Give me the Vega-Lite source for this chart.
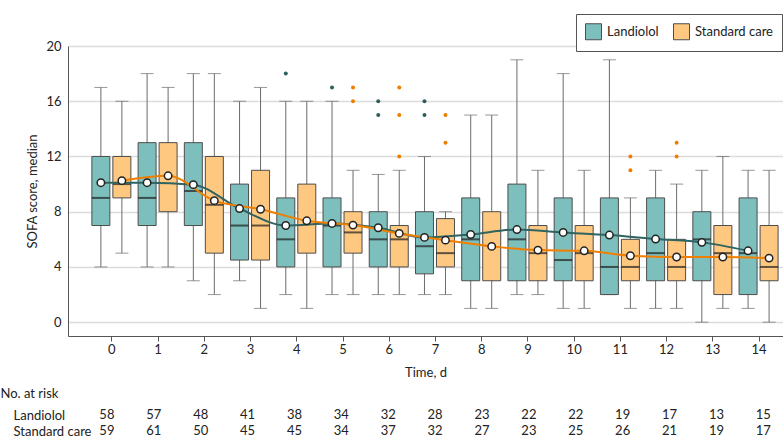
{
  "$schema": "https://vega.github.io/schema/vega-lite/v6.json",
  "padding": {"left": 0, "top": 13, "right": 0, "bottom": 0},
  "background": "white",
  "spacing": 8,
  "config": {
    "font": "Lato",
    "view": {"stroke": null},
    "axis": {"labelFontSize": 13, "labelColor": "#222", "titleFontSize": 13, "titleFontWeight": "normal", "titleColor": "#222", "domainColor": "#555", "tickColor": "#555", "gridColor": "#dcdcdc", "gridWidth": 1.3}
  },
  "datasets": {
    "boxes": [
      {"day": 0, "group": "Landiolol", "lo": 4, "q1": 7, "median": 9, "q3": 12, "hi": 17, "mean": 10.1},
      {"day": 0, "group": "Standard care", "lo": 5, "q1": 9, "median": 10, "q3": 12, "hi": 16, "mean": 10.25},
      {"day": 1, "group": "Landiolol", "lo": 4, "q1": 7, "median": 9, "q3": 13, "hi": 18, "mean": 10.1},
      {"day": 1, "group": "Standard care", "lo": 4, "q1": 8, "median": null, "q3": 13, "hi": 17, "mean": 10.6},
      {"day": 2, "group": "Landiolol", "lo": 3, "q1": 7, "median": 9.5, "q3": 13, "hi": 18, "mean": 9.96},
      {"day": 2, "group": "Standard care", "lo": 2, "q1": 5, "median": 8.5, "q3": 12, "hi": 18, "mean": 8.8},
      {"day": 3, "group": "Landiolol", "lo": 3, "q1": 4.5, "median": 7, "q3": 10, "hi": 16, "mean": 8.23},
      {"day": 3, "group": "Standard care", "lo": 1, "q1": 4.5, "median": 7, "q3": 11, "hi": 17, "mean": 8.18},
      {"day": 4, "group": "Landiolol", "lo": 2, "q1": 4, "median": 6, "q3": 9, "hi": 16, "mean": 7.0},
      {"day": 4, "group": "Standard care", "lo": 1, "q1": 5, "median": null, "q3": 10, "hi": 16, "mean": 7.34},
      {"day": 5, "group": "Landiolol", "lo": 2, "q1": 4, "median": 7, "q3": 9, "hi": 16, "mean": 7.15},
      {"day": 5, "group": "Standard care", "lo": 2, "q1": 5, "median": 6.5, "q3": 8, "hi": 11, "mean": 7.03},
      {"day": 6, "group": "Landiolol", "lo": 2, "q1": 4, "median": 6, "q3": 8, "hi": 10.7, "mean": 6.84},
      {"day": 6, "group": "Standard care", "lo": 2, "q1": 4, "median": 6, "q3": 7, "hi": 11, "mean": 6.43},
      {"day": 7, "group": "Landiolol", "lo": 2, "q1": 3.5, "median": 5.5, "q3": 8, "hi": 12, "mean": 6.14},
      {"day": 7, "group": "Standard care", "lo": 2, "q1": 4, "median": 5, "q3": 7.5, "hi": 8, "mean": 5.94},
      {"day": 8, "group": "Landiolol", "lo": 1, "q1": 3, "median": 6, "q3": 9, "hi": 15, "mean": 6.35},
      {"day": 8, "group": "Standard care", "lo": 1, "q1": 3, "median": null, "q3": 8, "hi": 15, "mean": 5.49},
      {"day": 9, "group": "Landiolol", "lo": 2, "q1": 3, "median": 6, "q3": 10, "hi": 19, "mean": 6.71},
      {"day": 9, "group": "Standard care", "lo": 2, "q1": 3, "median": 5, "q3": 7, "hi": 11, "mean": 5.22},
      {"day": 10, "group": "Landiolol", "lo": 1, "q1": 3, "median": 4.5, "q3": 9, "hi": 18, "mean": 6.5},
      {"day": 10, "group": "Standard care", "lo": 1, "q1": 3, "median": 5, "q3": 7, "hi": 11, "mean": 5.17},
      {"day": 11, "group": "Landiolol", "lo": 2, "q1": 2, "median": 4, "q3": 9, "hi": 19, "mean": 6.31},
      {"day": 11, "group": "Standard care", "lo": 1, "q1": 3, "median": 4, "q3": 6, "hi": 9, "mean": 4.81},
      {"day": 12, "group": "Landiolol", "lo": 1, "q1": 3, "median": 5, "q3": 9, "hi": 11, "mean": 6.02},
      {"day": 12, "group": "Standard care", "lo": 1, "q1": 3, "median": 4, "q3": 6, "hi": 10, "mean": 4.72},
      {"day": 13, "group": "Landiolol", "lo": 0, "q1": 3, "median": 6, "q3": 8, "hi": 11, "mean": 5.78},
      {"day": 13, "group": "Standard care", "lo": 1, "q1": 2, "median": 5, "q3": 7, "hi": 12, "mean": 4.72},
      {"day": 14, "group": "Landiolol", "lo": 1, "q1": 2, "median": 5, "q3": 9, "hi": 11, "mean": 5.17},
      {"day": 14, "group": "Standard care", "lo": 0, "q1": 3, "median": 4, "q3": 7, "hi": 11, "mean": 4.64}
    ],
    "outliers": [
      {"day": 4, "group": "Landiolol", "value": 18},
      {"day": 5, "group": "Landiolol", "value": 17},
      {"day": 5, "group": "Standard care", "value": 17},
      {"day": 5, "group": "Standard care", "value": 16},
      {"day": 6, "group": "Landiolol", "value": 16},
      {"day": 6, "group": "Landiolol", "value": 15},
      {"day": 6, "group": "Standard care", "value": 17},
      {"day": 6, "group": "Standard care", "value": 15},
      {"day": 6, "group": "Standard care", "value": 12},
      {"day": 7, "group": "Landiolol", "value": 16},
      {"day": 7, "group": "Landiolol", "value": 15},
      {"day": 7, "group": "Standard care", "value": 15},
      {"day": 7, "group": "Standard care", "value": 13},
      {"day": 11, "group": "Standard care", "value": 12},
      {"day": 11, "group": "Standard care", "value": 11},
      {"day": 12, "group": "Standard care", "value": 13},
      {"day": 12, "group": "Standard care", "value": 12}
    ],
    "risk": [
      {"day": 0, "group": "Landiolol", "n": 58}, {"day": 1, "group": "Landiolol", "n": 57}, {"day": 2, "group": "Landiolol", "n": 48},
      {"day": 3, "group": "Landiolol", "n": 41}, {"day": 4, "group": "Landiolol", "n": 38}, {"day": 5, "group": "Landiolol", "n": 34},
      {"day": 6, "group": "Landiolol", "n": 32}, {"day": 7, "group": "Landiolol", "n": 28}, {"day": 8, "group": "Landiolol", "n": 23},
      {"day": 9, "group": "Landiolol", "n": 22}, {"day": 10, "group": "Landiolol", "n": 22}, {"day": 11, "group": "Landiolol", "n": 19},
      {"day": 12, "group": "Landiolol", "n": 17}, {"day": 13, "group": "Landiolol", "n": 13}, {"day": 14, "group": "Landiolol", "n": 15},
      {"day": 0, "group": "Standard care", "n": 59}, {"day": 1, "group": "Standard care", "n": 61}, {"day": 2, "group": "Standard care", "n": 50},
      {"day": 3, "group": "Standard care", "n": 45}, {"day": 4, "group": "Standard care", "n": 45}, {"day": 5, "group": "Standard care", "n": 34},
      {"day": 6, "group": "Standard care", "n": 37}, {"day": 7, "group": "Standard care", "n": 32}, {"day": 8, "group": "Standard care", "n": 27},
      {"day": 9, "group": "Standard care", "n": 23}, {"day": 10, "group": "Standard care", "n": 25}, {"day": 11, "group": "Standard care", "n": 26},
      {"day": 12, "group": "Standard care", "n": 21}, {"day": 13, "group": "Standard care", "n": 19}, {"day": 14, "group": "Standard care", "n": 17}
    ]
  },
  "vconcat": [
    {
      "width": 715,
      "height": 290,
      "encoding": {
        "x": {"field": "day", "type": "quantitative", "title": "Time, d",
              "scale": {"domain": [-0.83, 14.42], "nice": false, "zero": false},
              "axis": {"values": [0,1,2,3,4,5,6,7,8,9,10,11,12,13,14], "grid": false, "tickSize": 5, "labelPadding": 2, "titlePadding": 10, "labelFlush": false, "labelOverlap": false}}
      },
      "layer": [
        {"data": {"name": "boxes"}, "transform": [{"filter": "datum.group == 'Landiolol'"}],
         "mark": {"type": "rule", "color": "#6b6b6b", "strokeWidth": 1, "xOffset": -10.5},
         "encoding": {"y": {"field": "lo", "type": "quantitative", "title": "SOFA score, median", "scale": {"domain": [-1, 20], "nice": false, "zero": false},
                            "axis": {"values": [0,4,8,12,16,20], "ticks": false, "labelPadding": 7, "titleX": -36, "titleBaseline": "middle", "grid": true}},
                      "y2": {"field": "hi"}}},
        {"data": {"name": "boxes"}, "transform": [{"filter": "datum.group == 'Standard care'"}],
         "mark": {"type": "rule", "color": "#6b6b6b", "strokeWidth": 1, "xOffset": 10.5},
         "encoding": {"y": {"field": "lo", "type": "quantitative", "title": "SOFA score, median", "scale": {"domain": [-1, 20], "nice": false, "zero": false}},
                      "y2": {"field": "hi"}}},
        {"data": {"name": "boxes"}, "transform": [{"filter": "datum.group == 'Landiolol'"}],
         "mark": {"type": "tick", "orient": "horizontal", "color": "#6b6b6b", "size": 13, "thickness": 1, "xOffset": -10.5},
         "encoding": {"y": {"field": "lo", "type": "quantitative", "title": "SOFA score, median", "scale": {"domain": [-1, 20], "nice": false, "zero": false}}}},
        {"data": {"name": "boxes"}, "transform": [{"filter": "datum.group == 'Landiolol'"}],
         "mark": {"type": "tick", "orient": "horizontal", "color": "#6b6b6b", "size": 13, "thickness": 1, "xOffset": -10.5},
         "encoding": {"y": {"field": "hi", "type": "quantitative", "title": "SOFA score, median", "scale": {"domain": [-1, 20], "nice": false, "zero": false}}}},
        {"data": {"name": "boxes"}, "transform": [{"filter": "datum.group == 'Standard care'"}],
         "mark": {"type": "tick", "orient": "horizontal", "color": "#6b6b6b", "size": 13, "thickness": 1, "xOffset": 10.5},
         "encoding": {"y": {"field": "lo", "type": "quantitative", "title": "SOFA score, median", "scale": {"domain": [-1, 20], "nice": false, "zero": false}}}},
        {"data": {"name": "boxes"}, "transform": [{"filter": "datum.group == 'Standard care'"}],
         "mark": {"type": "tick", "orient": "horizontal", "color": "#6b6b6b", "size": 13, "thickness": 1, "xOffset": 10.5},
         "encoding": {"y": {"field": "hi", "type": "quantitative", "title": "SOFA score, median", "scale": {"domain": [-1, 20], "nice": false, "zero": false}}}},
        {"data": {"name": "boxes"}, "transform": [{"filter": "datum.group == 'Landiolol'"}],
         "mark": {"type": "bar", "width": 18, "stroke": "#4d4d4d", "strokeWidth": 1, "opacity": 1, "xOffset": -10.5},
         "encoding": {"y": {"field": "q1", "type": "quantitative", "title": "SOFA score, median", "scale": {"domain": [-1, 20], "nice": false, "zero": false}},
                      "y2": {"field": "q3"},
                      "color": {"field": "group", "type": "nominal", "scale": {"domain": ["Landiolol", "Standard care"], "range": ["#7dbfbc", "#ffc880"]},
                                "legend": {"orient": "none", "legendX": 508, "legendY": -32, "direction": "horizontal", "title": null, "symbolType": "square", "symbolSize": 256, "symbolStrokeColor": "#555", "symbolStrokeWidth": 1, "symbolOpacity": 1, "labelFontSize": 13, "labelColor": "#222", "strokeColor": "#555", "fillColor": "white", "padding": 9, "columnPadding": 12, "labelOffset": 5}}}},
        {"data": {"name": "boxes"}, "transform": [{"filter": "datum.group == 'Standard care'"}],
         "mark": {"type": "bar", "width": 18, "stroke": "#4d4d4d", "strokeWidth": 1, "opacity": 1, "xOffset": 10.5},
         "encoding": {"y": {"field": "q1", "type": "quantitative", "title": "SOFA score, median", "scale": {"domain": [-1, 20], "nice": false, "zero": false}},
                      "y2": {"field": "q3"},
                      "color": {"field": "group", "type": "nominal", "scale": {"domain": ["Landiolol", "Standard care"], "range": ["#7dbfbc", "#ffc880"]}}}},
        {"data": {"name": "boxes"}, "transform": [{"filter": "datum.group == 'Landiolol'"}],
         "mark": {"type": "tick", "orient": "horizontal", "color": "#1e1e1e", "size": 18, "thickness": 2, "xOffset": -10.5},
         "encoding": {"y": {"field": "median", "type": "quantitative", "title": "SOFA score, median", "scale": {"domain": [-1, 20], "nice": false, "zero": false}}}},
        {"data": {"name": "boxes"}, "transform": [{"filter": "datum.group == 'Standard care'"}],
         "mark": {"type": "tick", "orient": "horizontal", "color": "#1e1e1e", "size": 18, "thickness": 2, "xOffset": 10.5},
         "encoding": {"y": {"field": "median", "type": "quantitative", "title": "SOFA score, median", "scale": {"domain": [-1, 20], "nice": false, "zero": false}}}},
        {"data": {"name": "outliers"}, "transform": [{"filter": "datum.group == 'Landiolol'"}],
         "mark": {"type": "circle", "size": 16, "color": "#2d5f5c", "opacity": 1, "xOffset": -10.5},
         "encoding": {"y": {"field": "value", "type": "quantitative", "title": "SOFA score, median", "scale": {"domain": [-1, 20], "nice": false, "zero": false}}}},
        {"data": {"name": "outliers"}, "transform": [{"filter": "datum.group == 'Standard care'"}],
         "mark": {"type": "circle", "size": 16, "color": "#ee7d00", "opacity": 1, "xOffset": 10.5},
         "encoding": {"y": {"field": "value", "type": "quantitative", "title": "SOFA score, median", "scale": {"domain": [-1, 20], "nice": false, "zero": false}}}},
        {"data": {"name": "boxes"}, "transform": [{"filter": "datum.group == 'Landiolol'"}],
         "mark": {"type": "line", "color": "#2f6461", "strokeWidth": 2, "interpolate": "monotone", "xOffset": -10.5},
         "encoding": {"y": {"field": "mean", "type": "quantitative", "title": "SOFA score, median", "scale": {"domain": [-1, 20], "nice": false, "zero": false}}}},
        {"data": {"name": "boxes"}, "transform": [{"filter": "datum.group == 'Standard care'"}],
         "mark": {"type": "line", "color": "#f07f00", "strokeWidth": 2, "interpolate": "monotone", "xOffset": 10.5},
         "encoding": {"y": {"field": "mean", "type": "quantitative", "title": "SOFA score, median", "scale": {"domain": [-1, 20], "nice": false, "zero": false}}}},
        {"data": {"name": "boxes"}, "transform": [{"filter": "datum.group == 'Landiolol'"}],
         "mark": {"type": "point", "filled": true, "fill": "white", "stroke": "#222", "strokeWidth": 1.5, "size": 55, "opacity": 1, "xOffset": -10.5},
         "encoding": {"y": {"field": "mean", "type": "quantitative", "title": "SOFA score, median", "scale": {"domain": [-1, 20], "nice": false, "zero": false}}}},
        {"data": {"name": "boxes"}, "transform": [{"filter": "datum.group == 'Standard care'"}],
         "mark": {"type": "point", "filled": true, "fill": "white", "stroke": "#222", "strokeWidth": 1.5, "size": 55, "opacity": 1, "xOffset": 10.5},
         "encoding": {"y": {"field": "mean", "type": "quantitative", "title": "SOFA score, median", "scale": {"domain": [-1, 20], "nice": false, "zero": false}}}}
      ]
    },
    {
      "width": 715,
      "height": 32,
      "data": {"name": "risk"},
      "mark": {"type": "text", "fontSize": 13, "color": "#222"},
      "encoding": {
        "x": {"field": "day", "type": "quantitative", "scale": {"domain": [-0.83, 14.42], "nice": false, "zero": false}, "axis": null},
        "y": {"field": "group", "type": "nominal", "scale": {"domain": ["Landiolol", "Standard care"], "paddingInner": 0, "paddingOuter": 0},
              "axis": {"title": "No. at risk", "titleAngle": 0, "titleX": -68, "titleY": -14, "titleAlign": "left", "titleBaseline": "middle",
                       "domain": false, "ticks": false, "labelAlign": "left", "labelPadding": 55, "grid": false}},
        "text": {"field": "n", "type": "quantitative"}
      }
    }
  ]
}
